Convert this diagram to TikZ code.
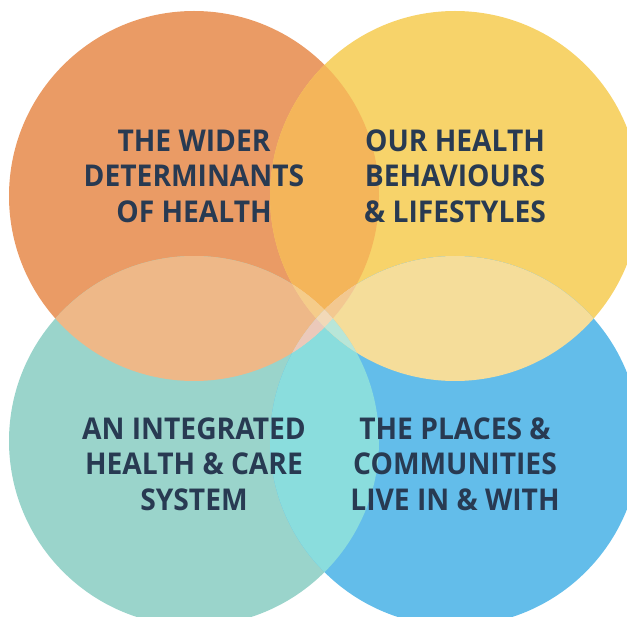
\documentclass[tikz,border=0pt]{standalone}
\usepackage{fontspec}
\setmainfont{Open Sans}
\newfontfamily\lblfont{Open Sans}[FakeStretch=0.94]
\definecolor{cO}{HTML}{EA9B65}
\definecolor{cY}{HTML}{F7D36A}
\definecolor{cT}{HTML}{9AD4CB}
\definecolor{cB}{HTML}{63BDEA}
\definecolor{cOY}{HTML}{F4B55A}
\definecolor{cOT}{HTML}{EEB888}
\definecolor{cYB}{HTML}{F5DD9A}
\definecolor{cTB}{HTML}{8ADDDD}
\definecolor{cOB}{HTML}{F0CDAE}
\definecolor{cYT}{HTML}{F4CF96}
\definecolor{cOYT}{HTML}{F5CC8A}
\definecolor{cOYB}{HTML}{F3C890}
\definecolor{cOTB}{HTML}{EBC9BA}
\definecolor{cYTB}{HTML}{B8E6D8}
\definecolor{cAll}{HTML}{F2D9B8}
\definecolor{txt}{HTML}{283A52}
\begin{document}
\begin{tikzpicture}[x=1pt,y=-1pt,
  lbl/.style={text=txt, font=\lblfont\bfseries\fontsize{30}{35.5}\selectfont, align=center, inner sep=0pt}]
\useasboundingbox (0,0) rectangle (627,617);
\def\R{185}
\coordinate (co) at (194,196);
\coordinate (cy) at (455,196);
\coordinate (ct) at (194,441);
\coordinate (cb) at (455,441);
% base circles
\fill[cO] (co) circle[radius=\R];
\fill[cY] (cy) circle[radius=\R];
\fill[cT] (ct) circle[radius=\R];
\fill[cB] (cb) circle[radius=\R];
% pairs
\begin{scope}\clip (co) circle[radius=\R]; \fill[cOY] (cy) circle[radius=\R];\end{scope}
\begin{scope}\clip (co) circle[radius=\R]; \fill[cOT] (ct) circle[radius=\R];\end{scope}
\begin{scope}\clip (cy) circle[radius=\R]; \fill[cYB] (cb) circle[radius=\R];\end{scope}
\begin{scope}\clip (ct) circle[radius=\R]; \fill[cTB] (cb) circle[radius=\R];\end{scope}
\begin{scope}\clip (co) circle[radius=\R]; \fill[cOB] (cb) circle[radius=\R];\end{scope}
\begin{scope}\clip (cy) circle[radius=\R]; \fill[cYT] (ct) circle[radius=\R];\end{scope}
% triples
\begin{scope}\clip (co) circle[radius=\R]; \clip (cy) circle[radius=\R]; \fill[cOYT] (ct) circle[radius=\R];\end{scope}
\begin{scope}\clip (co) circle[radius=\R]; \clip (cy) circle[radius=\R]; \fill[cOYB] (cb) circle[radius=\R];\end{scope}
\begin{scope}\clip (co) circle[radius=\R]; \clip (ct) circle[radius=\R]; \fill[cOTB] (cb) circle[radius=\R];\end{scope}
\begin{scope}\clip (cy) circle[radius=\R]; \clip (ct) circle[radius=\R]; \fill[cYTB] (cb) circle[radius=\R];\end{scope}
% all four
\begin{scope}\clip (co) circle[radius=\R]; \clip (cy) circle[radius=\R]; \clip (ct) circle[radius=\R]; \fill[cAll] (cb) circle[radius=\R];\end{scope}
% labels
\node[lbl] (wider) at (194,176) {THE WIDER\\DETERMINANTS\\OF HEALTH};
\node[lbl] (behav) at (455,176) {OUR HEALTH\\BEHAVIOURS\\\& LIFESTYLES};
\node[lbl] (integ) at (194,464) {AN INTEGRATED\\HEALTH \& CARE\\SYSTEM};
\node[lbl] (places) at (455,464) {THE PLACES \&\\COMMUNITIES\\LIVE IN \& WITH};
\end{tikzpicture}
\end{document}
